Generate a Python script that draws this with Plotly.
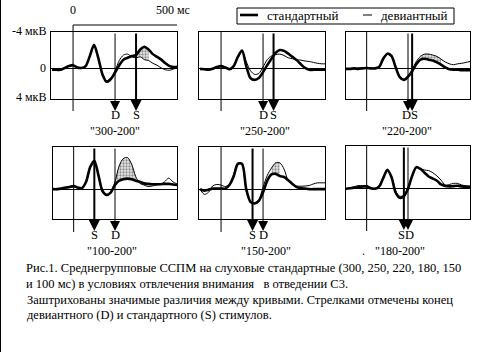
import plotly.graph_objects as go

W, H = 504, 352

# ---------------- data ----------------
T = [-100, -80, -60, -40, -20, 0, 20, 40, 60, 80, 100, 120, 140, 160, 180, 200,
     220, 240, 260, 280, 300, 320, 340, 360, 380, 400, 420, 440, 460, 480, 500]

titles = ['"300-200"', '"250-200"', '"220-200"', '"100-200"', '"150-200"', '"180-200"']
S_end = [300, 250, 220, 100, 150, 180]   # end of standard stimulus, ms
D_end = [200, 200, 200, 200, 200, 200]   # end of deviant stimulus, ms
sig_win = [(300, 360), None, (260, 360), (200, 300), (240, 280), (240, 280)]

std1 = [0.1, 0.1, 0.1, -0.1, -0.3, -0.4, -0.15, -0.1, -0.3, -1.4, -2.6, -1.2, 0.6, 1.4, 1.1, 0.4,
        -0.4, -1.0, -1.2, -1.4, -1.5, -2.1, -2.4, -2.1, -1.6, -1.3, -1.0, -0.6, -0.3, -0.2, -0.25]
dev1 = [0.1, 0.15, 0.1, -0.1, -0.3, -0.35, -0.2, -0.1, -0.3, -1.4, -2.5, -1.2, 0.5, 1.3, 1.0, 0.2,
        -0.9, -1.5, -1.6, -1.3, -1.2, -1.3, -1.0, -0.9, -0.6, -0.4, -0.1, 0.1, 0.15, 0.0, -0.2]

std2 = [0.0, 0.05, 0.1, 0.0, -0.2, -0.3, -0.15, 0.05, -0.3, -1.3, -2.0, -0.3, 1.0, 1.2, 1.0, 0.35,
        -0.4, -1.1, -1.75, -2.05, -1.95, -1.65, -1.3, -0.95, -0.5, -0.1, 0.1, 0.1, 0.1, 0.1, 0.1]
dev2 = [-0.05, 0.0, 0.05, -0.05, -0.2, -0.25, -0.2, -0.05, -0.3, -1.2, -1.9, -0.8, 0.2, 0.6, 0.5, -0.2,
        -1.0, -1.4, -1.55, -1.6, -1.45, -1.2, -1.1, -1.0, -0.95, -0.85, -0.8, -0.7, -0.6, -0.55, -0.55]

std3 = [0.0, 0.0, -0.05, 0.0, -0.05, -0.1, -0.05, -0.05, -0.2, -1.1, -1.65, -1.4, -0.2, 0.9, 1.2, 0.85,
        0.25, -0.5, -1.0, -1.1, -1.0, -0.9, -0.7, -0.45, -0.15, 0.05, 0.1, 0.1, 0.15, 0.15, 0.15]
dev3 = [0.0, 0.05, 0.0, -0.1, -0.15, -0.1, -0.1, -0.05, -0.2, -1.0, -1.6, -1.3, -0.2, 0.8, 1.1, 0.8,
        0.1, -0.8, -1.35, -1.6, -1.6, -1.5, -1.35, -1.05, -0.75, -0.55, -0.45, -0.55, -0.6, -0.7, -0.8]

std4 = [0.0, 0.0, -0.05, -0.15, -0.2, -0.3, -0.15, -0.1, -0.7, -2.1, -2.7, -1.3, 0.2, 0.55, 0.3, -0.4,
        -0.8, -0.95, -1.0, -0.95, -0.8, -0.7, -0.55, -0.5, -0.47, -0.47, -0.47, -0.5, -0.5, -0.45, -0.4]
dev4 = [0.0, 0.05, 0.0, -0.1, -0.15, -0.2, -0.1, -0.1, -0.6, -2.0, -2.5, -1.4, 0.1, 0.5, 0.2, -0.7,
        -2.2, -2.9, -3.0, -2.4, -1.2, -0.55, -0.4, -0.25, -0.3, -0.4, -0.45, -0.7, -1.05, -0.7, -0.5]

std5 = [0.0, 0.15, 0.05, -0.05, -0.05, -0.06, -0.05, -0.4, -1.2, -2.4, -2.4, 0.0, 1.2, 1.35, 1.1, 0.3,
        -0.8, -1.4, -1.45, -1.25, -1.15, -0.85, -0.5, -0.2, -0.1, -0.05, 0.0, 0.0, 0.0, 0.0, 0.0]
dev5 = [0.0, 0.5, 0.3, -0.3, -0.45, -0.38, -0.25, -0.5, -1.4, -2.5, -2.3, 0.2, 1.2, 1.3, 1.0, -0.2,
        -1.3, -2.0, -2.5, -2.5, -1.9, -0.8, -0.45, -0.3, -0.28, -0.3, -0.35, -0.5, -0.6, -0.6, -0.6]

std6 = [0.0, -0.05, -0.1, -0.15, -0.2, -0.22, -0.05, 0.0, -0.2, -1.0, -1.75, -1.1, 0.35, 0.85, 0.7, 0.0,
        -1.2, -2.0, -1.85, -1.5, -1.15, -0.95, -0.75, -0.4, -0.25, -0.22, -0.25, -0.28, -0.22, -0.18, -0.16]
dev6 = [0.0, -0.1, -0.2, -0.3, -0.3, -0.3, -0.1, -0.05, -0.3, -1.1, -1.85, -1.1, 0.2, 0.7, 0.6, -0.2,
        -1.2, -2.1, -1.9, -1.75, -1.7, -1.5, -1.2, -0.8, -0.35, -0.4, -0.5, -0.5, -0.35, -0.28, -0.25]

standard = [std1, std2, std3, std4, std5, std6]
deviant = [dev1, dev2, dev3, dev4, dev5, dev6]

# ---------------- layout geometry (pixels) ----------------
boxes = [(51, 177, 32, 99), (199, 325, 32, 99), (346, 470, 32, 99),
         (53, 177, 147, 219), (199, 325, 147, 219), (346, 470, 146, 219)]
xranges = [[-105, 495], [-105, 495], [-100, 500], [-100, 500], [-105, 495], [-100, 500]]
yranges = [[3.27, -4], [3.27, -4], [3.27, -4], [2.83, -4], [2.83, -4], [2.83, -4]]
tip_y = [111, 111, 111, 231, 231, 230]
zero_top = [25, 32, 32, 147, 147, 146]
zero_bot = [111, 111, 111, 232, 232, 231]
lab_y = [115, 115, 115, 235, 235, 235]
title_y = [131, 131, 131, 251, 251, 251]
title_x = [115, 265, 407, 112, 266, 400]


def px(x):
    return x / W


def py(y):
    return 1 - y / H


SERIF = "Liberation Serif, Times New Roman, serif"


def font(size):
    return dict(family=SERIF, size=size, color='black')


fig = go.Figure()
shapes = []
annos = []

for i in range(6):
    n = '' if i == 0 else str(i + 1)
    xa, ya = 'x' + n, 'y' + n
    x0, x1, y0, y1 = boxes[i]
    fig.layout['xaxis' + n] = dict(domain=[px(x0), px(x1)], range=xranges[i], anchor=ya,
                                   showgrid=False, zeroline=False, showticklabels=False, ticks='',
                                   showline=True, mirror=True, linecolor='black', linewidth=1)
    fig.layout['yaxis' + n] = dict(domain=[py(y1), py(y0)], range=yranges[i], anchor=xa,
                                   showgrid=False, zeroline=True, zerolinecolor='black', zerolinewidth=1,
                                   showticklabels=False, ticks='',
                                   showline=True, mirror=True, linecolor='black', linewidth=1)
    st, dv = standard[i], deviant[i]
    if sig_win[i] is not None:
        a, b = sig_win[i]
        idx = [k for k, t in enumerate(T) if a <= t <= b]
        tw = [T[k] for k in idx]
        fig.add_trace(go.Scatter(x=tw, y=[st[k] for k in idx], xaxis=xa, yaxis=ya, mode='lines',
                                 line=dict(width=0, shape='spline', smoothing=0.8), showlegend=False,
                                 hoverinfo='skip'))
        fig.add_trace(go.Scatter(x=tw, y=[dv[k] for k in idx], xaxis=xa, yaxis=ya, mode='lines',
                                 line=dict(width=0, shape='spline', smoothing=0.8), showlegend=False,
                                 fill='tonexty', fillcolor='white',
                                 fillpattern=dict(shape='.', fgcolor='#333', bgcolor='#e8e8e8',
                                                  size=3, solidity=0.45),
                                 hoverinfo='skip'))
    fig.add_trace(go.Scatter(x=T, y=dv, xaxis=xa, yaxis=ya, mode='lines',
                             line=dict(color='black', width=1, shape='spline', smoothing=0.8),
                             showlegend=False, name='девиантный'))
    fig.add_trace(go.Scatter(x=T, y=st, xaxis=xa, yaxis=ya, mode='lines',
                             line=dict(color='black', width=2.6, shape='spline', smoothing=0.8),
                             showlegend=False, name='стандартный'))

    # stimulus-onset line (t = 0)
    shapes.append(dict(type='line', xref=xa, yref='paper', x0=0, x1=0,
                       y0=py(zero_top[i]), y1=py(zero_bot[i]), line=dict(color='black', width=1)))
    # arrows: end of deviant (D) and standard (S)
    for val, wdt in ((D_end[i], 1), (S_end[i], 2)):
        annos.append(dict(xref=xa, yref='paper', x=val, y=py(tip_y[i]), ax=0,
                          ay=-(tip_y[i] - y0), text='', showarrow=True, arrowhead=2,
                          arrowsize=2.0 if wdt == 1 else 1.1, arrowwidth=wdt, arrowcolor='black'))
    # labels
    if abs(S_end[i] - D_end[i]) < 40:
        txt = 'DS' if D_end[i] <= S_end[i] else 'SD'
        annos.append(dict(xref=xa, yref='paper', x=(S_end[i] + D_end[i]) / 2, y=py(lab_y[i]),
                          xanchor='center', yanchor='middle',
                          text=txt, showarrow=False, font=font(12.5)))
    else:
        for val, txt in ((D_end[i], 'D'), (S_end[i], 'S')):
            annos.append(dict(xref=xa, yref='paper', x=val, y=py(lab_y[i]), text=txt,
                              xanchor='center', yanchor='middle',
                              showarrow=False, font=font(12.5)))
    annos.append(dict(xref='paper', yref='paper', x=px(title_x[i]), y=py(title_y[i]),
                      xanchor='center', yanchor='middle',
                      text=titles[i], showarrow=False, font=font(12)))

# stray dot before the last panel title (as in the original scan)
annos.append(dict(xref='paper', yref='paper', x=px(363), y=py(251), xanchor='center', yanchor='middle',
                  text='.', showarrow=False, font=font(12)))

# amplitude labels on first panel
for txt, yy in (('-4 мкВ', 31), ('0', 68), ('4 мкВ', 97)):
    annos.append(dict(xref='paper', yref='paper', x=px(48), y=py(yy), xanchor='right', yanchor='middle',
                      text=txt, showarrow=False, font=font(12)))

# time scale bracket
annos.append(dict(xref='x', yref='paper', x=0, y=py(10), text='0', showarrow=False,
                  xanchor='center', yanchor='middle', font=font(12)))
annos.append(dict(xref='paper', yref='paper', x=px(173), y=py(10), text='500 мс', showarrow=False,
                  xanchor='center', yanchor='middle', font=font(12)))
shapes.append(dict(type='line', xref='x', yref='paper', x0=0, x1=500, y0=py(25), y1=py(25),
                   line=dict(color='black', width=1)))
shapes.append(dict(type='line', xref='x', yref='paper', x0=500, x1=500, y0=py(25), y1=py(31),
                   line=dict(color='black', width=1)))

# legend
shapes.append(dict(type='rect', xref='paper', yref='paper', x0=px(237), x1=px(454), y0=py(24), y1=py(8),
                   line=dict(color='black', width=1), fillcolor='white'))
shapes.append(dict(type='line', xref='paper', yref='paper', x0=px(240), x1=px(258), y0=py(15), y1=py(15),
                   line=dict(color='black', width=2.6)))
shapes.append(dict(type='line', xref='paper', yref='paper', x0=px(363), x1=px(372), y0=py(15), y1=py(15),
                   line=dict(color='black', width=1)))
annos.append(dict(xref='paper', yref='paper', x=px(265), y=py(16), xanchor='left', yanchor='middle',
                  text='стандартный', showarrow=False, font=font(13)))
annos.append(dict(xref='paper', yref='paper', x=px(379), y=py(16), xanchor='left', yanchor='middle',
                  text='девиантный', showarrow=False, font=font(13)))

# left border
shapes.append(dict(type='line', xref='paper', yref='paper', x0=px(0.5), x1=px(0.5), y0=0, y1=1,
                   line=dict(color='black', width=1)))

# caption
caption = [
    ('Рис.1. Среднегрупповые ССПМ на слуховые стандартные (300, 250, 220, 180, 150', 24, 268),
    ('и 100 мс) в условиях отвлечения внимания   в отведении С3.', 24, 284),
    ('Заштрихованы значимые различия между кривыми. Стрелками отмечены конец', 25, 300),
    ('девиантного (D) и стандартного (S) стимулов.', 25, 315),
]
for txt, xx, yy in caption:
    annos.append(dict(xref='paper', yref='paper', x=px(xx), y=py(yy), xanchor='left', yanchor='middle',
                      text=txt, showarrow=False, font=font(12.5)))

fig.update_layout(width=W, height=H, margin=dict(l=0, r=0, t=0, b=0), plot_bgcolor='white',
                  paper_bgcolor='white', shapes=shapes, annotations=annos, showlegend=False)
fig.write_html("out.html")
